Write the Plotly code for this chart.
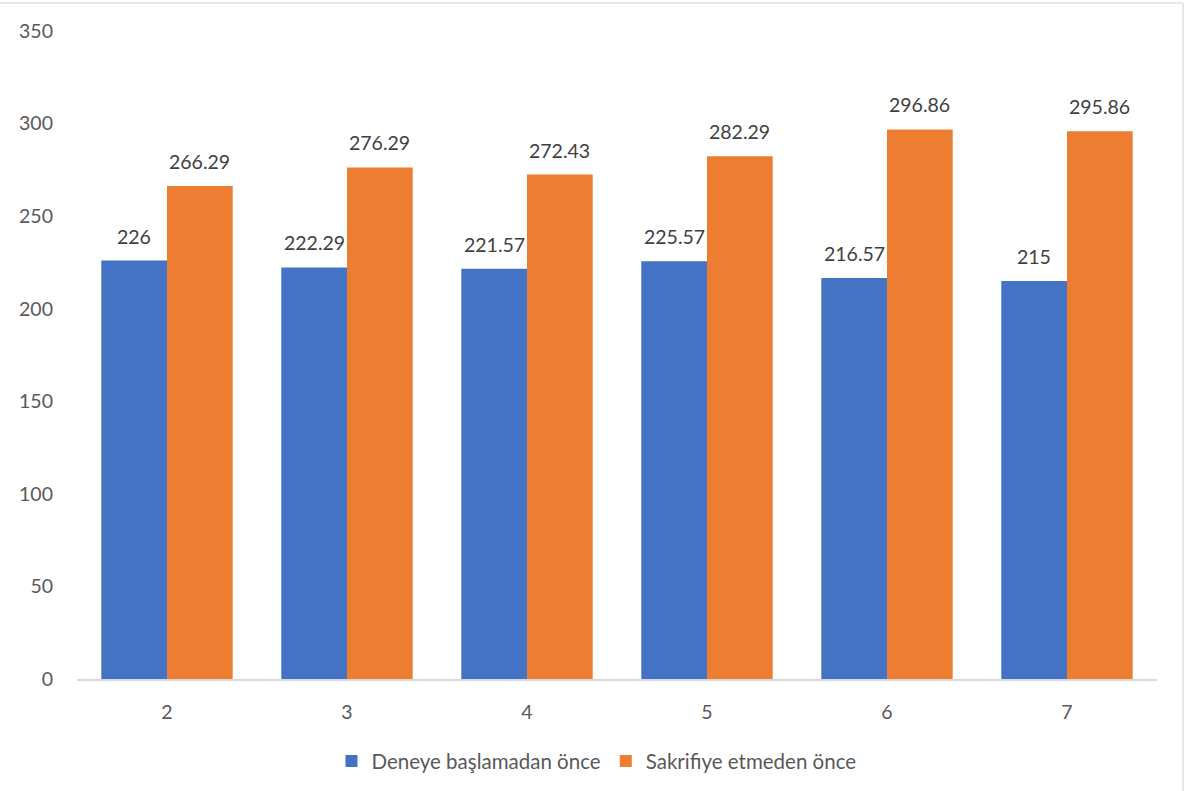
import plotly.graph_objects as go

# Group labels and the two measured series
categories = ["2", "3", "4", "5", "6", "7"]
before_experiment = [226, 222.29, 221.57, 225.57, 216.57, 215]
before_sacrifice = [266.29, 276.29, 272.43, 282.29, 296.86, 295.86]
series_names = ["Deneye başlamadan önce", "Sakrifiye etmeden önce"]
y_ticks = [0, 50, 100, 150, 200, 250, 300, 350]

FONT = "Lato, 'Open Sans', sans-serif"
BLUE = "#4472C4"
ORANGE = "#ED7D31"
LABEL_FONT = dict(size=19.5, color="#404040", family=FONT)
TICK_FONT = dict(size=19.5, color="#595959", family=FONT)


def fmt(v):
    return f"{v:g}"


fig = go.Figure()
fig.add_trace(go.Bar(
    x=categories, y=before_experiment, name=series_names[0],
    marker=dict(color=BLUE, line=dict(width=0)),
))
fig.add_trace(go.Bar(
    x=categories, y=before_sacrifice, name=series_names[1],
    marker=dict(color=ORANGE, line=dict(width=0)),
))

# Value labels sitting a little above each bar (x given as category index)
bar_px = 65.5
for series, shift in ((before_experiment, -bar_px / 2), (before_sacrifice, bar_px / 2)):
    for idx, val in enumerate(series):
        fig.add_annotation(
            x=idx, y=val, text=fmt(val), showarrow=False,
            xshift=shift, yshift=11, yanchor="bottom",
            font=LABEL_FONT,
        )

fig.update_layout(
    width=1185, height=791,
    margin=dict(l=77, r=28, t=31, b=112, autoexpand=False),
    paper_bgcolor="white", plot_bgcolor="white",
    barmode="group", bargap=0.27, bargroupgap=0,
    font=dict(family=FONT, size=18, color="#595959"),
    showlegend=True,
    legend=dict(
        orientation="h", x=0.481, xanchor="center", xref="paper",
        y=-0.127, yanchor="middle",
        font=dict(size=20.5, color="#595959", family=FONT),
        itemwidth=30, tracegroupgap=0,
    ),
    xaxis=dict(
        type="category", showgrid=False, zeroline=False,
        showline=True, linecolor="#D9D9D9", linewidth=2,
        ticks="", ticklabelstandoff=15,
        tickfont=TICK_FONT,
    ),
    yaxis=dict(
        range=[0, 350], tickvals=y_ticks, showgrid=False, zeroline=False,
        showline=False, ticks="", ticklabelstandoff=23,
        tickfont=TICK_FONT,
    ),
)

# Thin frame lines along the top and right edges of the page
frame = dict(color="#D0D0D0", width=1)
top_y = 1 + 28 / 648
right_x = 1 + 26 / 1080
fig.add_shape(type="line", xref="paper", yref="paper",
              x0=-77 / 1080, x1=right_x, y0=top_y, y1=top_y, line=frame)
fig.add_shape(type="line", xref="paper", yref="paper",
              x0=right_x, x1=right_x, y0=-112 / 648, y1=top_y, line=frame)

fig.write_html("out.html")
